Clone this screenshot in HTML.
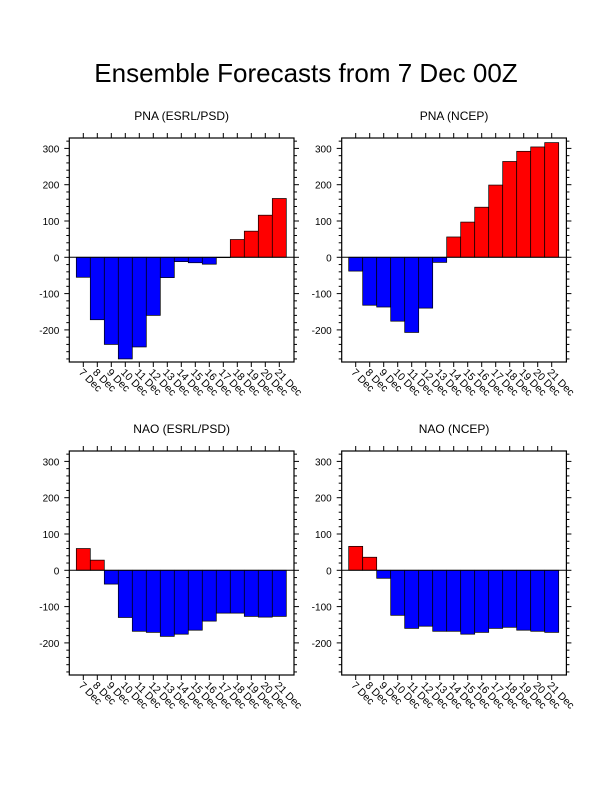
<!DOCTYPE html>
<html><head><meta charset="utf-8"><style>body{margin:0;background:#fff}svg{display:block}</style></head>
<body>
<svg id="s" width="612" height="792" xmlns="http://www.w3.org/2000/svg" font-family="Liberation Sans, sans-serif">
<text x="306" y="82" font-size="26" text-anchor="middle">Ensemble Forecasts from 7 Dec 00Z</text>
</svg>
<script>
const s=document.getElementById('s');
const panels=[
 {t:"PNA (ESRL/PSD)",L:69.3,T:138,v:[-55,-172,-240,-280,-247,-160,-56,-12,-15,-19,-1,49,72,116,162]},
 {t:"PNA (NCEP)",L:341.7,T:138,v:[-38,-132,-137,-176,-207,-140,-14,56,97,138,199,264,292,304,316]},
 {t:"NAO (ESRL/PSD)",L:69.3,T:451,v:[60,28,-38,-130,-168,-171,-182,-176,-165,-140,-118,-118,-127,-129,-127]},
 {t:"NAO (NCEP)",L:341.7,T:451,v:[66,36,-22,-124,-160,-154,-168,-168,-176,-171,-160,-157,-165,-168,-171]}];
let h='';
for(const p of panels){
 const W=224.7,H=224,z=p.T+119.3,k=0.363;
 const cx=i=>p.L+14*(i+1);
 h+=`<text x="${p.L+W/2}" y="${p.T-18}" font-size="12" text-anchor="middle">${p.t}</text>`;
 p.v.forEach((v,i)=>{const x=cx(i)-7,y=v>0?z-v*k:z,hh=Math.abs(v)*k;
  h+=`<rect x="${x}" y="${y}" width="14" height="${hh}" fill="${v>0?'#f00':'#00f'}" stroke="#000" stroke-width="0.7"/>`;});
 h+=`<line x1="${p.L}" x2="${p.L+W}" y1="${z}" y2="${z}" stroke="#000" stroke-width="1"/>`;
 h+=`<rect x="${p.L}" y="${p.T}" width="${W}" height="${H}" fill="none" stroke="#000" stroke-width="1.2"/>`;
 for(let v=-280;v<=320;v+=20){const y=z-v*k;if(y<p.T||y>p.T+H)continue;const m=v%100==0,l=m?5:3;
  h+=`<line x1="${p.L-l}" x2="${p.L}" y1="${y}" y2="${y}" stroke="#000"/><line x1="${p.L+W}" x2="${p.L+W+l}" y1="${y}" y2="${y}" stroke="#000"/>`;
  if(m&&v>=-200&&v<=300)h+=`<text x="${p.L-10}" y="${y+4}" font-size="10" text-anchor="end">${v}</text>`;}
 for(let i=0;i<15;i++){const x=cx(i);
  h+=`<line x1="${x}" x2="${x}" y1="${p.T-5}" y2="${p.T}" stroke="#000"/><line x1="${x}" x2="${x}" y1="${p.T+H}" y2="${p.T+H+5}" stroke="#000"/>`;
  h+=`<text transform="translate(${x-5},${p.T+H+11}) rotate(45)" font-size="10.5">${7+i} Dec</text>`;}
}
s.insertAdjacentHTML('beforeend',h);
</script>
</body></html>
